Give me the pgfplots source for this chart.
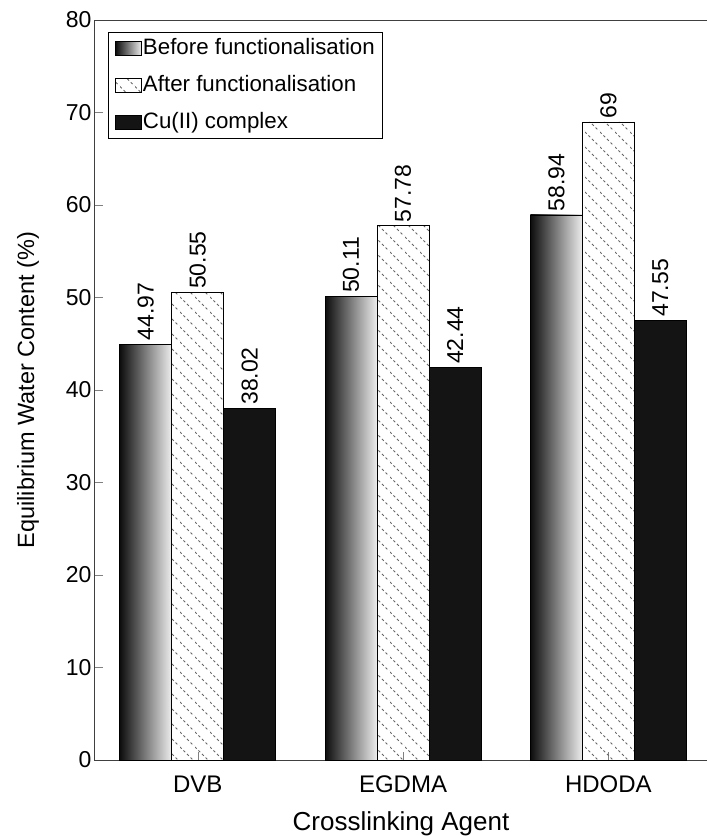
\documentclass[border=0pt]{standalone}
\usepackage{fontspec}
\setmainfont{Liberation Sans}
\usepackage{pgfplots}
\pgfplotsset{compat=1.18}
\usetikzlibrary{patterns.meta}

% dashed diagonal hatch, like the "after" bars
\tikzdeclarepattern{
  name=dashhatch,
  type=uncolored,
  bounding box={(0pt,0pt) and (15pt,15pt)},
  tile size={(15pt,15pt)},
  code={\draw[line width=0.9pt, dash pattern=on 2.65pt off 2.65pt] (0pt,15pt) -- (15pt,0pt);}
}

\pgfplotsset{
  before/.style={draw=black, left color=black!95, right color=black!7, bar shift=-52pt},
  after/.style={draw=black, pattern=dashhatch, pattern color=black!60, bar shift=0pt},
  cu/.style={draw=black, fill=black!92, bar shift=52pt},
}

\begin{document}
\begin{tikzpicture}
\begin{axis}[
    ybar,
    bar width=52pt,
    scale only axis,
    width=612pt,
    height=740pt,
    xmin=-0.5, xmax=2.48,
    ymin=0, ymax=80,
    ytick={0,10,...,80},
    xtick={0,1,2},
    xticklabels={DVB,EGDMA,HDODA},
    tick align=inside,
    xtick pos=bottom,
    ytick pos=left,
    major tick length=8pt,
    yticklabel style={font=\fontsize{23}{27}\selectfont},
    xticklabel style={font=\fontsize{24}{28}\selectfont, yshift=-12.5pt},
    /pgf/number format/assume math mode=true,
    xlabel={Crosslinking Agent},
    xlabel style={font=\fontsize{26}{30}\selectfont},
    xlabel shift=12pt,
    ylabel={Equilibrium Water Content (\%)},
    ylabel style={font=\fontsize{23.5}{28}\selectfont},
    ylabel shift=20pt,
    axis line style={black!75, line width=1pt},
    nodes near coords,
    point meta=explicit symbolic,
    every node near coord/.append style={rotate=90, anchor=west, black, font=\fontsize{23}{27}\selectfont},
    legend style={at={(axis description cs:0,1)}, anchor=north west,
        xshift=13pt, yshift=-12pt, draw=black, line width=0.8pt,
        font=\fontsize{22.3}{27}\selectfont, inner xsep=7pt, inner ysep=4pt,
        row sep=13pt,
        nodes={inner sep=1pt, text height=17pt, text depth=5pt}},
    legend cell align=left,
    legend image code/.code={\draw[#1, line width=0.6pt] (0pt,-7pt) rectangle (26pt,7pt);},
]
\addplot[before] coordinates {(0,44.97) [44.97]};
\addplot[before, forget plot] coordinates {(1,50.11) [50.11]};
\addplot[before, forget plot] coordinates {(2,58.94) [58.94]};
\addplot[after] coordinates {
    (0,50.55) [50.55]
    (1,57.78) [57.78]
    (2,69) [69]
};
\addplot[cu] coordinates {
    (0,38.02) [38.02]
    (1,42.44) [42.44]
    (2,47.55) [47.55]
};
\legend{Before functionalisation, After functionalisation, Cu(II) complex}
\coordinate (O) at (rel axis cs:0,0);
\end{axis}
\pgfresetboundingbox
\path (O) ++(-95pt,-76pt) rectangle ++(707pt,836pt);
\end{tikzpicture}
\end{document}
